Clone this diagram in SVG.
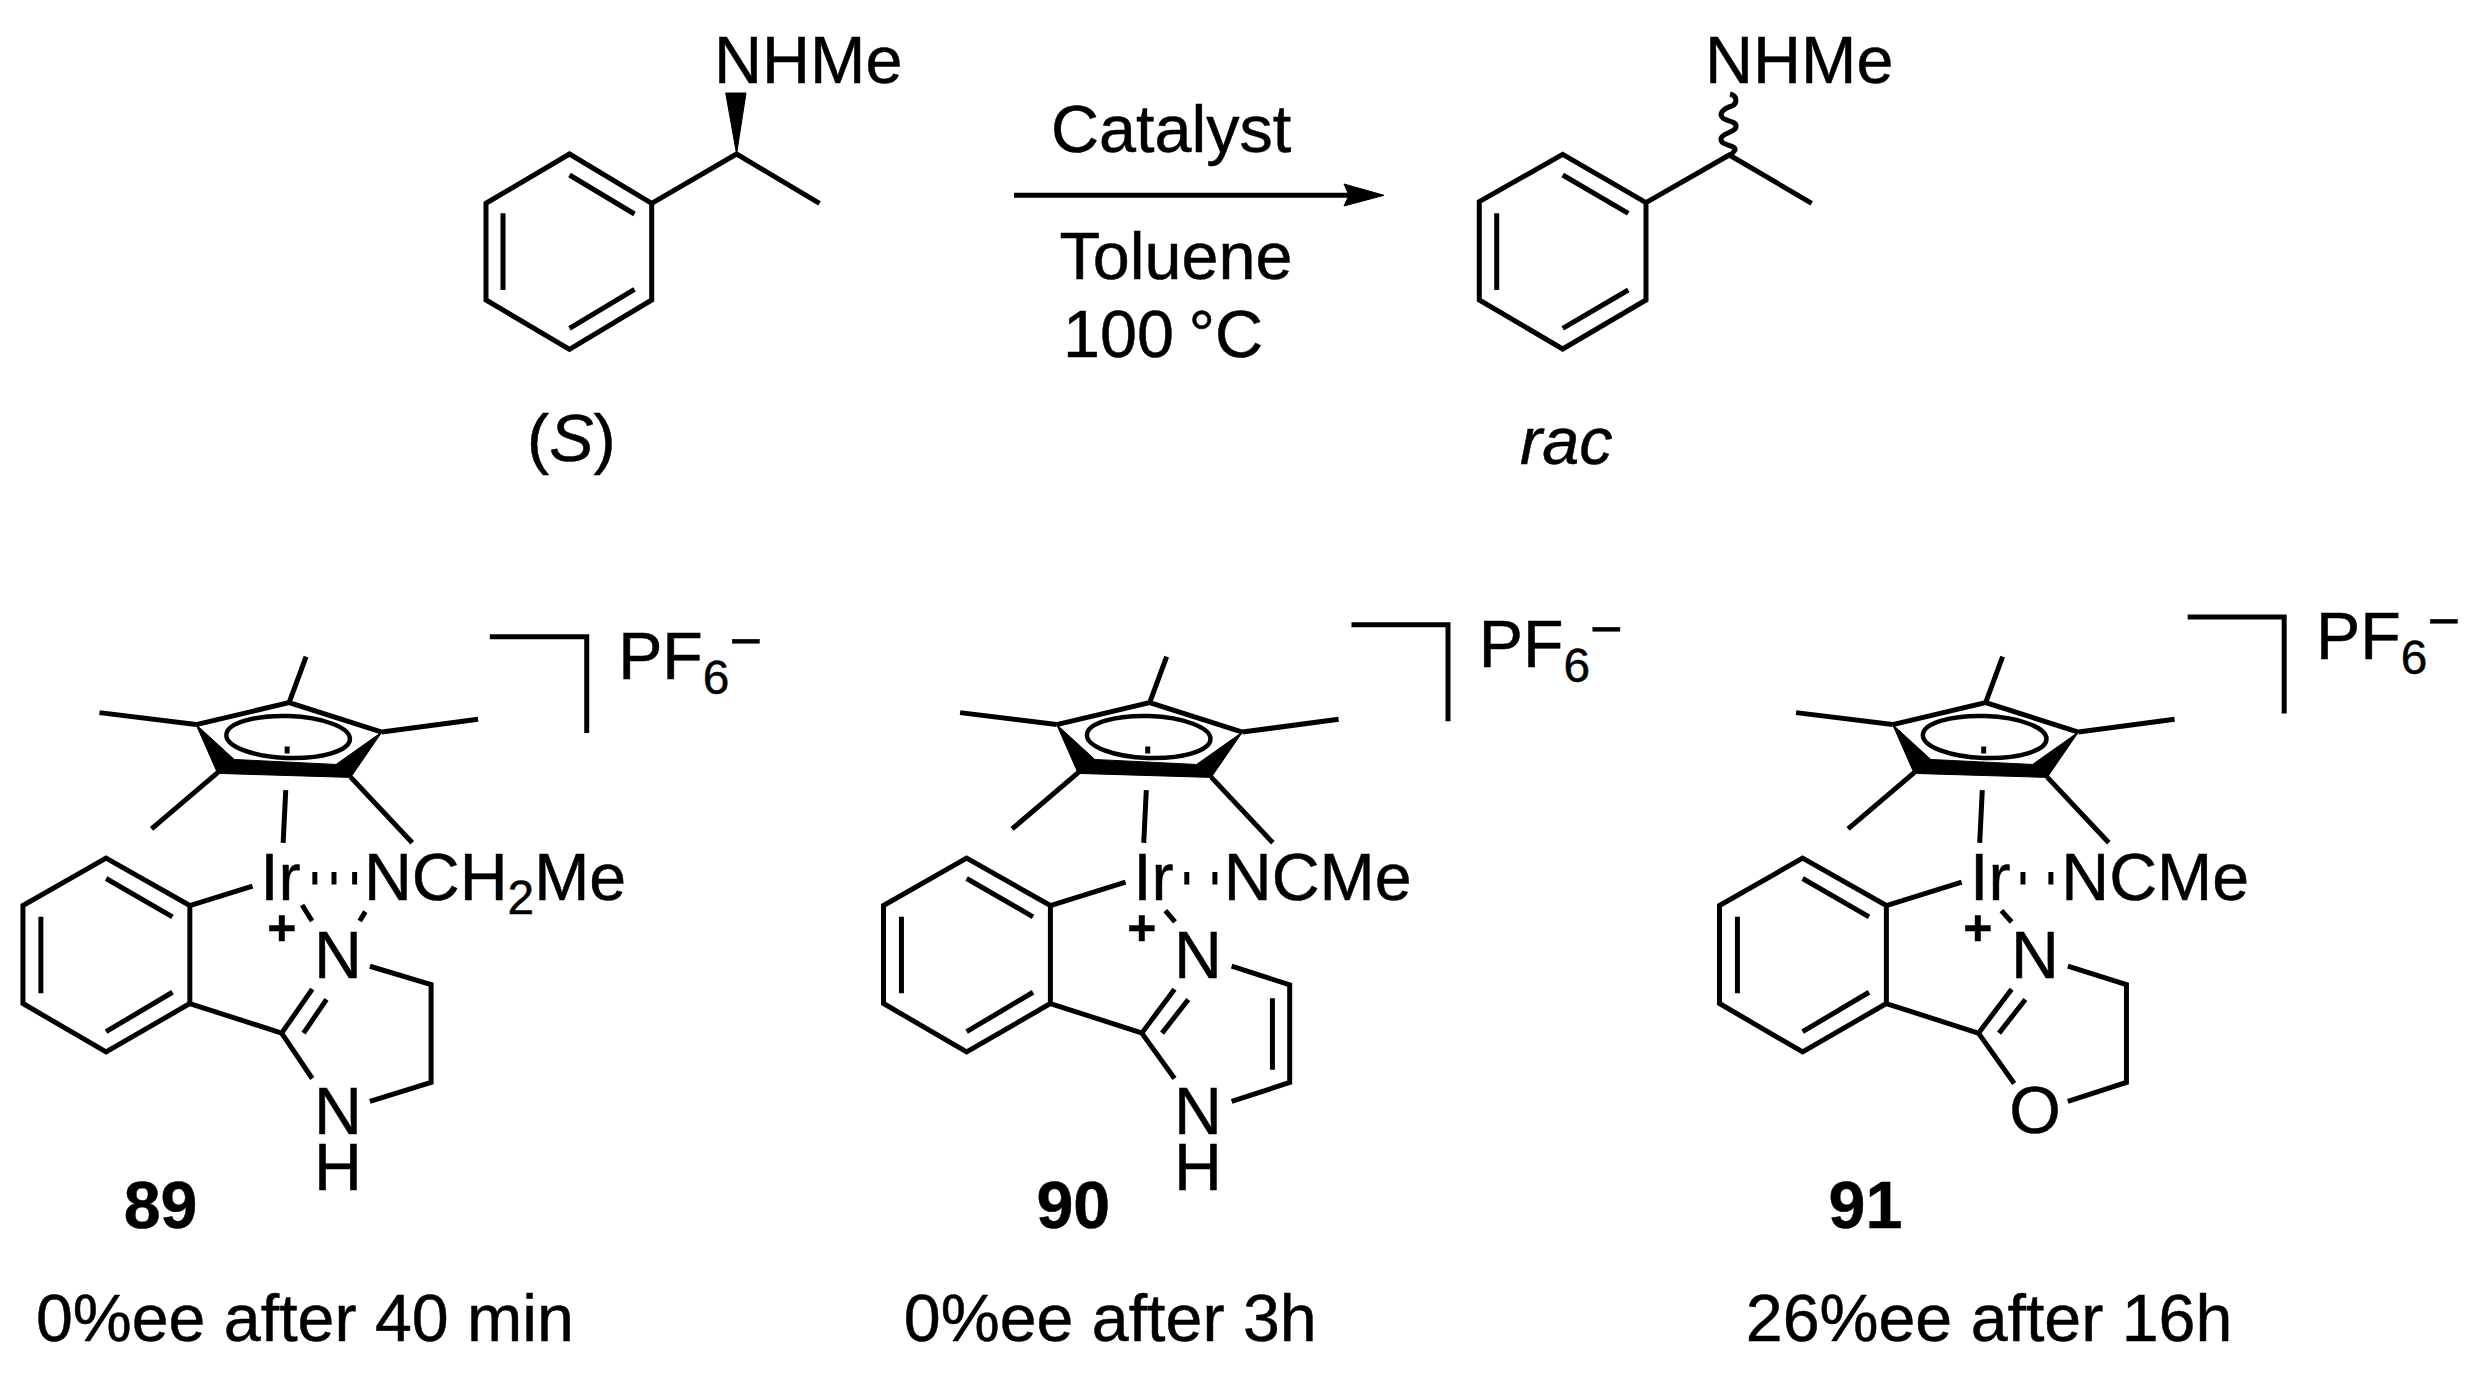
<svg xmlns="http://www.w3.org/2000/svg" width="2481" height="1374" viewBox="0 0 2481 1374">
<style>
text{font-family:"Liberation Sans",Arial,sans-serif;font-size:66.5px;fill:#000;stroke:#000;stroke-width:.5}
.b{font-weight:bold}.i{font-style:italic}.s{font-size:48px}.m{font-size:56px}.p{font-size:50px;font-weight:bold}
.l{fill:none;stroke:#000;stroke-width:5;stroke-linecap:butt;stroke-linejoin:miter}
.f{fill:#000;stroke:#000;stroke-width:1;stroke-linejoin:round}
.e{fill:none;stroke:#000;stroke-width:4.5}
</style>
<defs>
<g id="cp">
<path class="l" d="M196.7 725L290 703L383 732.5M290 703L307 656.8M196.7 725L99.8 713M383 732.5L479.5 719.7M218.3 773.3L152 829.7M351.7 777.7L413.5 843.6M286.6 790.8L284 843.6M288 747V754"/>
<path class="f" d="M196.7 725L218.3 774L351.7 778L383 732.5L337 765L235 760Z"/>
<ellipse class="e" cx="289" cy="737.5" rx="62" ry="21" transform="rotate(2 289 737.5)"/>
</g>
<g id="ph">
<path class="l" d="M106.4 859L190.4 906.5V1004.8L106.4 1053.4L23 1004.8V906.5ZM106.4 879.4L173 917.8M41 917.8V994.5M106.4 1033L173 993.5M190.4 1004.8L282.5 1034.5"/>
</g>
</defs>
<g id="connectors">
<path class="l" d="M1014 195.3H1350"/>
<path class="f" d="M1344 184L1384 195.3L1344 206L1349 195.3Z"/>
</g>
<g id="substrate">
<path class="l" d="M569.5 154L651.7 203.3V300L569.5 349.3L486 300V203.3ZM569.5 175L634.5 214M503 213.3V290M569.5 328.3L634.5 289.3M651.7 203.3L736.6 154L819.5 203.3"/>
<path class="f" d="M725.7 93H746L736.6 154Z"/>
<text x="714" y="82.7">NHMe</text>
<text x="527" y="461">(<tspan class="i">S</tspan>)</text>
</g>
<g id="conditions">
<text x="1051" y="152.3">Catalyst</text>
<text x="1059.5" y="279.3">Toluene</text>
<text x="1063" y="356.7" word-spacing="-4">100 °C</text>
</g>
<g id="product">
<path class="l" d="M1562.7 154.3L1646 202.7V300L1562.7 349L1479.3 300V201.7ZM1562.7 175L1628.3 213.3M1496.7 213.3V290M1562.7 328.3L1628.3 290M1646 202.7L1729.3 155L1811.7 203.3"/>
<path class="l" d="M1730 94C1738 96 1737 104 1732 106C1724 108 1719 113 1722 117C1725 122 1737 120 1736 127C1735 133 1720 133 1721 140C1722 146 1736 145 1735 150L1731 155"/>
<text x="1705" y="82.7">NHMe</text>
<text class="i" x="1520" y="464.3">rac</text>
</g>
<g id="c89" transform="translate(0 580) scale(.997) translate(0 -580)">
<use href="#cp"/><use href="#ph"/>
<path class="l" d="M190.4 906.5L253.3 887M491.3 637H588.5V733.5M282.5 1034.5L313.2 990.4M304.5 1034.5L327.5 1000.7M282.5 1034.5L313.2 1080M371 967.4L432.4 985.8V1084L371 1103M315.8 873V885.5M335 873V885.5M355.7 873V885.5M303 906L313 922M366.4 912.6L360.8 922"/>
<text x="261" y="901">Ir</text>
<text x="365" y="901">NCH<tspan class="s" dy="14">2</tspan><tspan dy="-14">Me</tspan></text>
<text class="p" x="268" y="946">+</text>
<text x="315" y="979">N</text><text x="315" y="1135.5">N<tspan x="315" dy="56.5">H</tspan></text>
<text x="620" y="679">PF<tspan class="s" dy="15">6</tspan><tspan class="m" dy="-34">−</tspan></text>
<text class="b" x="124" y="1230">89</text>
<text x="36" y="1343">0%ee after 40 min</text>
</g>
<g id="c90" transform="translate(850 580) scale(.997) translate(-850 -580)">
<use href="#cp" x="860.6"/><use href="#ph" x="860.6"/>
<path class="l" d="M1051 906.5L1126.4 883M1353 625H1449.8V721.8M1142.7 1034.5L1175.5 990.4M1163 1034.5L1189.3 1000.7M1142.7 1034.5L1175.5 1080M1232.8 967.4L1291 986V1084L1232.8 1103M1273.7 999.6V1071.3M1187.8 873V885.5M1216 873V885.5M1166.3 911.6L1176 923"/>
<text x="1134" y="901">Ir</text>
<text x="1225" y="901">NCMe</text>
<text class="p" x="1128" y="946">+</text>
<text x="1175" y="979">N</text><text x="1175" y="1135.5">N<tspan x="1175" dy="56.5">H</tspan></text>
<text x="1480.6" y="667">PF<tspan class="s" dy="15">6</tspan><tspan class="m" dy="-34">−</tspan></text>
<text class="b" x="1037" y="1230">90</text>
<text x="904" y="1343">0%ee after 3h</text>
</g>
<g id="c91" transform="translate(1680 580) scale(.997) translate(-1680 -580)">
<use href="#cp" x="1696.6"/><use href="#ph" x="1696.6"/>
<path class="l" d="M1887 906.5L1962.5 883M2189.2 617H2286V714M1979.4 1034.5L2012.6 990.4M2000 1034.5L2026.4 1000.7M1979.4 1034.5L2015.2 1085M2069 967.4L2127.8 985.8V1084L2069 1103M2024 873V885.5M2052 873V885.5M2002.4 911.6L2012.6 923"/>
<text x="1971" y="901">Ir</text>
<text x="2062.5" y="901">NCMe</text>
<text class="p" x="1964" y="946">+</text>
<text x="2012" y="979">N</text><text x="2010.3" y="1135">O</text>
<text x="2318" y="659">PF<tspan class="s" dy="15">6</tspan><tspan class="m" dy="-34">−</tspan></text>
<text class="b" x="1829" y="1230">91</text>
<text x="1746" y="1343">26%ee after 16h</text>
</g>
</svg>
